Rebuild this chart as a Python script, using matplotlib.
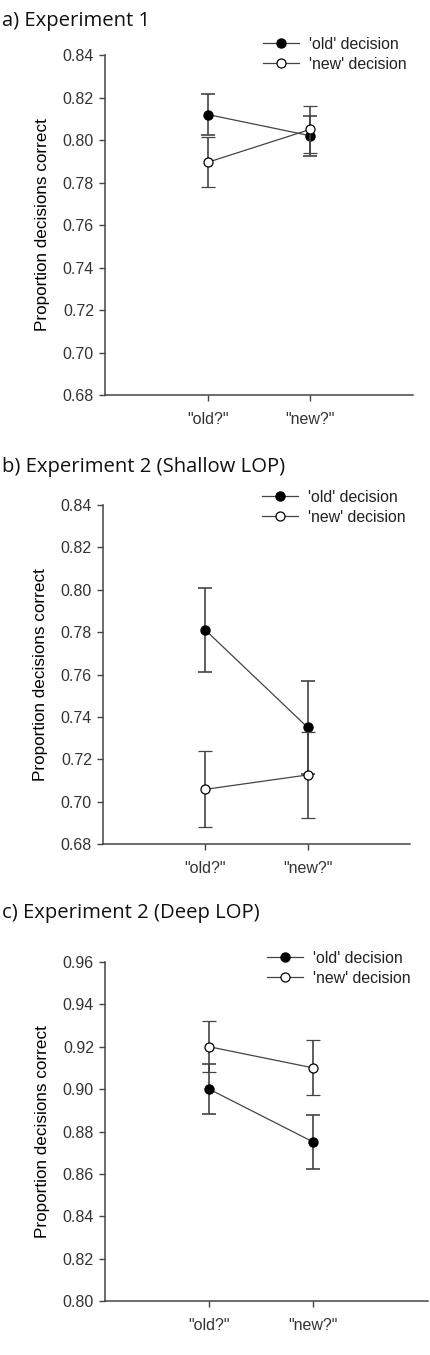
import matplotlib
matplotlib.use("Agg")
import matplotlib.pyplot as plt

# condition labels on the x axis
conditions = ['"old?"', '"new?"']
series_labels = ["'old' decision", "'new' decision"]

# panel a) Experiment 1
exp1_old = [0.812, 0.802]
exp1_old_err = [0.0097, 0.0095]
exp1_new = [0.7895, 0.805]
exp1_new_err = [0.0118, 0.011]

# panel b) Experiment 2 shallow
shallow_old = [0.781, 0.735]
shallow_old_err = [0.020, 0.022]
shallow_new = [0.7058, 0.7126]
shallow_new_err = [0.018, 0.0203]

# panel c) Experiment 2 deep
deep_old = [0.900, 0.875]
deep_old_err = [0.0118, 0.0129]
deep_new = [0.920, 0.910]
deep_new_err = [0.012, 0.013]

W, H = 431, 1355
plt.rcParams["font.family"] = ["Liberation Sans", "DejaVu Sans"]

fig = plt.figure(figsize=(W / 100, H / 100), dpi=100)

GRAY = "#444444"


def px_axes(left, right, top, bottom):
    return fig.add_axes([left / W, 1 - bottom / H, (right - left) / W, (bottom - top) / H])


def draw_panel(ax, old, old_err, new, new_err, ylim, yticks, xmax, leg_xy, title, title_y):
    xs = [1, 2]
    ax.errorbar(xs, old, yerr=old_err, color=GRAY, lw=0.9, elinewidth=1.2, capsize=5,
                capthick=1.2, marker="o", ms=6.5, mfc="black", mec="black",
                label=series_labels[0], zorder=3)
    ax.errorbar(xs, new, yerr=new_err, color=GRAY, lw=0.9, elinewidth=1.2, capsize=5,
                capthick=1.2, marker="o", ms=6.5, mfc="white", mec="black", mew=0.9,
                label=series_labels[1], zorder=4)
    ax.set_xlim(0, xmax)
    ax.set_ylim(*ylim)
    ax.set_yticks(yticks)
    ax.set_yticklabels([f"{t:.2f}" for t in yticks])
    ax.set_xticks(xs)
    ax.set_xticklabels(conditions)
    for s in ["top", "right"]:
        ax.spines[s].set_visible(False)
    for s in ["left", "bottom"]:
        ax.spines[s].set_color(GRAY)
        ax.spines[s].set_linewidth(1.1)
    ax.tick_params(direction="out", length=4, width=1, color=GRAY,
                   labelsize=11.5, labelcolor="#333333", pad=4)
    ax.tick_params(axis="x", pad=8)
    ax.set_ylabel("Proportion decisions correct", fontsize=12.3, color="black", labelpad=9)
    handles, labels = ax.get_legend_handles_labels()
    handles = [h[0] for h in handles]
    fig.legend(handles, labels, loc="upper left",
               bbox_to_anchor=(leg_xy[0] / W, 1 - leg_xy[1] / H),
               frameon=False, fontsize=11.4, borderpad=0, borderaxespad=0,
               handlelength=2.3, handletextpad=0.6, labelspacing=0.3,
               labelcolor="#222222")
    fig.text(2 / W, 1 - title_y / H, title, fontsize=14.6, family="Open Sans",
             va="center", ha="left", color="#111111")


ax1 = px_axes(105, 413, 55, 395)
draw_panel(ax1, exp1_old, exp1_old_err, exp1_new, exp1_new_err,
           (0.68, 0.84), [0.68 + 0.02 * i for i in range(9)], 3.0,
           (263, 37), "a) Experiment 1", 21)

ax2 = px_axes(103, 410, 505, 844)
draw_panel(ax2, shallow_old, shallow_old_err, shallow_new, shallow_new_err,
           (0.68, 0.84), [0.68 + 0.02 * i for i in range(9)], 3.0,
           (262, 490), "b) Experiment 2 (Shallow LOP)", 467)

ax3 = px_axes(105, 428, 962, 1301)
draw_panel(ax3, deep_old, deep_old_err, deep_new, deep_new_err,
           (0.80, 0.96), [0.80 + 0.02 * i for i in range(9)], 3.1,
           (267, 951), "c) Experiment 2 (Deep LOP)", 913)

fig.savefig("out.png", dpi=100)
